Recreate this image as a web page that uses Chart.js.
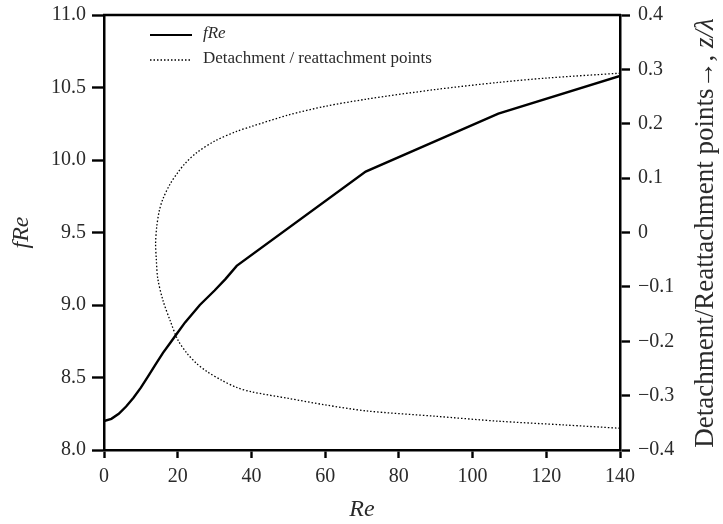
<!DOCTYPE html>
<html>
<head>
<meta charset="utf-8">
<script src="https://cdn.jsdelivr.net/npm/chart.js@4.4.1/dist/chart.umd.min.js"></script>
<style>
  html, body { margin: 0; padding: 0; background: #fff; }
  #wrap { width: 723px; height: 524px; }
</style>
</head>
<body>
<div id="wrap"><canvas id="c"></canvas></div>
<script>
// fRe vs Re (left axis)
const reValues = [0, 2, 4, 6, 8, 10, 12, 14, 16, 18, 20, 22, 24, 26, 28, 30, 33, 36, 71, 107, 140];
const fReValues = [8.20, 8.215, 8.25, 8.30, 8.36, 8.43, 8.51, 8.59, 8.67, 8.74, 8.81, 8.88, 8.94, 9.00, 9.05, 9.10, 9.18, 9.27, 9.92, 10.32, 10.58];

// detachment / reattachment points (right axis)
const sepRe = [140, 120, 107, 90, 71, 60, 50, 40, 36, 30, 25, 22, 20, 18, 16, 15, 14.3, 14.0, 14.2, 14.6, 16, 18, 20, 22.5, 25, 28, 32, 36, 40, 50, 60, 71, 90, 107, 125, 140];
const sepZ = [0.293, 0.284, 0.276, 0.263, 0.245, 0.232, 0.216, 0.195, 0.186, 0.168, 0.146, 0.127, 0.110, 0.090, 0.062, 0.040, 0.010, -0.020, -0.050, -0.085, -0.125, -0.163, -0.197, -0.222, -0.240, -0.256, -0.272, -0.285, -0.293, -0.305, -0.317, -0.328, -0.338, -0.347, -0.354, -0.360];

const xTicks = [0, 20, 40, 60, 80, 100, 120, 140];
const yTicks = [8.0, 8.5, 9.0, 9.5, 10.0, 10.5, 11.0];
const y1Ticks = [-0.4, -0.3, -0.2, -0.1, 0, 0.1, 0.2, 0.3, 0.4];

const serif = "'Liberation Serif', 'DejaVu Serif', serif";
const tickColor = "#2a2a2a";

function fmtZ(v) {
  if (Math.abs(v) < 1e-9) return "0";
  const s = Math.abs(v).toFixed(1);
  return v < 0 ? "\u2212" + s : s;
}

// top frame line, legend inside plot, right-axis title (reads bottom to top)
const extras = {
  id: "extras",
  afterDraw(chart) {
    const ctx = chart.ctx;
    const a = chart.chartArea;
    ctx.save();
    ctx.strokeStyle = "#000";
    ctx.lineWidth = 2.5;
    ctx.beginPath(); ctx.moveTo(a.left - 1, a.top); ctx.lineTo(a.right + 1, a.top); ctx.stroke();

    ctx.lineWidth = 2.2;
    ctx.beginPath(); ctx.moveTo(150, 35); ctx.lineTo(192, 35); ctx.stroke();
    ctx.lineWidth = 1.3;
    ctx.setLineDash([1.5, 2]);
    ctx.beginPath(); ctx.moveTo(150, 60); ctx.lineTo(192, 60); ctx.stroke();
    ctx.setLineDash([]);
    ctx.fillStyle = tickColor;
    ctx.textBaseline = "middle";
    ctx.font = "italic 17px " + serif;
    ctx.fillText("fRe", 203, 34);
    ctx.font = "17px " + serif;
    ctx.fillText("Detachment / reattachment points", 203, 59);

    const p1 = "Detachment/Reattachment points\u2192, ";
    const p2 = "z/\u03BB";
    ctx.translate(706, 233);
    ctx.rotate(-Math.PI / 2);
    ctx.font = "27px " + serif;
    const w1 = ctx.measureText(p1).width;
    ctx.font = "italic 27px " + serif;
    const w2 = ctx.measureText(p2).width;
    const start = -(w1 + w2) / 2;
    ctx.textAlign = "left";
    ctx.font = "27px " + serif;
    ctx.fillText(p1, start, 0);
    ctx.font = "italic 27px " + serif;
    ctx.fillText(p2, start + w1, 0);
    ctx.restore();
  }
};

new Chart(document.getElementById("c"), {
  type: "scatter",
  data: {
    datasets: [
      {
        label: "fRe",
        data: reValues.map((x, i) => ({ x: x, y: fReValues[i] })),
        showLine: true,
        borderColor: "#000",
        borderWidth: 2.4,
        pointRadius: 0,
        tension: 0,
        yAxisID: "y"
      },
      {
        label: "Detachment / reattachment points",
        data: sepRe.map((x, i) => ({ x: x, y: sepZ[i] })),
        showLine: true,
        borderColor: "#000",
        borderWidth: 1.3,
        borderDash: [1.5, 2],
        pointRadius: 0,
        tension: 0.3,
        yAxisID: "y1"
      }
    ]
  },
  options: {
    responsive: true,
    maintainAspectRatio: false,
    animation: false,
    layout: { padding: { top: 15, left: 0, right: 0, bottom: 0 } },
    plugins: {
      legend: { display: false },
      tooltip: { enabled: false }
    },
    scales: {
      x: {
        type: "linear",
        position: "bottom",
        min: 0,
        max: 140,
        afterBuildTicks: (s) => { s.ticks = xTicks.map(v => ({ value: v })); },
        afterFit: (s) => { s.height = 74; s.paddingLeft = 0; s.paddingRight = 0; },
        grid: { drawOnChartArea: false, drawTicks: true, tickLength: 8, tickWidth: 2.4, tickColor: "#000" },
        border: { display: true, color: "#000", width: 2.5 },
        ticks: { color: tickColor, font: { family: serif, size: 20 }, padding: 7, maxRotation: 0 },
        title: { display: true, text: "Re", color: tickColor, font: { family: serif, size: 24, style: "italic" }, padding: { top: 0, bottom: 0 } }
      },
      y: {
        type: "linear",
        position: "left",
        min: 8,
        max: 11,
        afterBuildTicks: (s) => { s.ticks = yTicks.map(v => ({ value: v })); },
        afterFit: (s) => { s.width = 104; s.paddingTop = 0; s.paddingBottom = 0; },
        grid: { drawOnChartArea: false, drawTicks: true, tickLength: 12, tickWidth: 2.4, tickColor: "#000" },
        border: { display: true, color: "#000", width: 2.5 },
        ticks: { color: tickColor, font: { family: serif, size: 20 }, padding: 6, callback: (v) => Number(v).toFixed(1) },
        title: { display: true, text: "fRe", color: tickColor, font: { family: serif, size: 24, style: "italic" }, padding: { top: 7, bottom: 0 } }
      },
      y1: {
        type: "linear",
        position: "right",
        min: -0.4,
        max: 0.4,
        afterBuildTicks: (s) => { s.ticks = y1Ticks.map(v => ({ value: v })); },
        afterFit: (s) => { s.width = 103; s.paddingTop = 0; s.paddingBottom = 0; },
        grid: { drawOnChartArea: false, drawTicks: true, tickLength: 10, tickWidth: 2.4, tickColor: "#000" },
        border: { display: true, color: "#000", width: 2.5 },
        ticks: { color: tickColor, font: { family: serif, size: 20 }, padding: 8, callback: (v) => fmtZ(v) }
      }
    }
  },
  plugins: [extras]
});
</script>
</body>
</html>
